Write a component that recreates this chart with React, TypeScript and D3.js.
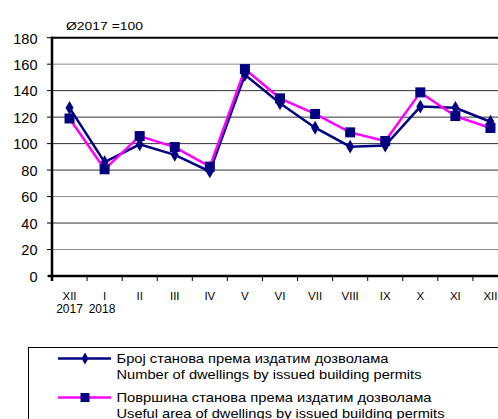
import React, { useEffect, useRef } from "react";
import * as d3 from "d3";

const months = ["XII", "I", "II", "III", "IV", "V", "VI", "VII", "VIII", "IX", "X", "XI", "XII"];
const dwellings = [127, 86, 99.5, 91.5, 79, 152, 130.5, 112, 97.7, 98.5, 128, 127, 116.5];
const area = [119, 80.6, 105.7, 97.4, 82.6, 156.3, 134.2, 122.4, 108.5, 102, 138.7, 120.8, 111.8];
const yTicks = [0, 20, 40, 60, 80, 100, 120, 140, 160, 180];
const yearLabels = ["2017", "2018"];
const legendLabels = [
  ["Број станова према издатим дозволама", "Number of dwellings by issued building permits"],
  ["Површина станова према издатим дозволама", "Useful area of dwellings by issued building permits"],
];
const legendWidths = [[272, 305], [315, 328]];
const gridColors: Record<number, string> = {
  20: "#8c8c8c", 40: "#333", 60: "#8c8c8c", 80: "#333", 100: "#333", 120: "#333", 140: "#333", 160: "#8c8c8c",
};

export default function App() {
  const ref = useRef<SVGSVGElement>(null);
  useEffect(() => {
    const svg = d3.select(ref.current);
    svg.selectAll("*").remove();
    const font = "'Liberation Sans', Arial, sans-serif";
    const left = 52, right = 508, top = 37.7, bottom = 276;
    const x = d3.scaleBand<string>().domain(months.map((m, i) => i + "")).range([left, right]);
    const y = d3.scaleLinear().domain([0, 180]).range([bottom, top]);
    const cx = (i: number) => (x(i + "") as number) + x.bandwidth() / 2;

    // gridlines
    yTicks.filter((t) => t > 0 && t < 180).forEach((t) => {
      svg.append("line").attr("x1", left).attr("x2", right).attr("y1", y(t)).attr("y2", y(t))
        .attr("stroke", gridColors[t]).attr("stroke-width", 1);
    });
    // top border
    svg.append("line").attr("x1", left).attr("x2", right).attr("y1", y(180)).attr("y2", y(180))
      .attr("stroke", "#000").attr("stroke-width", 2);
    // axes
    svg.append("line").attr("x1", left).attr("x2", left).attr("y1", top - 1).attr("y2", bottom + 5)
      .attr("stroke", "#000").attr("stroke-width", 2.5);
    svg.append("line").attr("x1", left - 4).attr("x2", right).attr("y1", bottom).attr("y2", bottom)
      .attr("stroke", "#000").attr("stroke-width", 2.5);
    // y ticks
    yTicks.forEach((t) => {
      svg.append("line").attr("x1", left - 5).attr("x2", left).attr("y1", y(t)).attr("y2", y(t))
        .attr("stroke", "#000").attr("stroke-width", 1);
      svg.append("text").attr("x", 37.5).attr("y", y(t)).attr("dy", "0.4em").attr("text-anchor", "end")
        .attr("font-family", font).attr("font-size", 14.5).attr("fill", "#000").text(t);
    });
    // x ticks
    months.forEach((m, i) => {
      const xs = x(i + "") as number;
      svg.append("line").attr("x1", xs).attr("x2", xs).attr("y1", bottom).attr("y2", bottom + 5)
        .attr("stroke", "#000").attr("stroke-width", 1);
      svg.append("text").attr("x", cx(i)).attr("y", 299.5).attr("text-anchor", "middle")
        .attr("font-family", font).attr("font-size", 11.5).attr("fill", "#000").text(m);
    });
    const yearX = [69.5, 102];
    yearLabels.forEach((t, i) => {
      svg.append("text").attr("x", yearX[i]).attr("y", 313).attr("text-anchor", "middle")
        .attr("font-family", font).attr("font-size", 12).text(t);
    });
    svg.append("text").attr("x", 66).attr("y", 30).attr("font-family", font).attr("font-size", 11)
      .attr("textLength", 77).attr("lengthAdjust", "spacingAndGlyphs").text("Ø2017 =100");

    const line = d3.line<number>().x((d, i) => cx(i)).y((d) => y(d));
    // series
    svg.append("path").datum(dwellings).attr("d", line).attr("fill", "none")
      .attr("stroke", "#000080").attr("stroke-width", 2.5);
    svg.append("path").datum(area).attr("d", line).attr("fill", "none")
      .attr("stroke", "#ff00ff").attr("stroke-width", 2.5);
    const diamond = d3.symbol().type(d3.symbolDiamond).size(55);
    dwellings.forEach((d, i) => {
      svg.append("path").attr("d", diamond()).attr("transform", `translate(${cx(i)},${y(d)})`)
        .attr("fill", "#000080");
    });
    area.forEach((d, i) => {
      svg.append("rect").attr("x", cx(i) - 5).attr("y", y(d) - 5).attr("width", 10).attr("height", 10)
        .attr("fill", "#000080");
    });

    // legend
    svg.append("rect").attr("x", 28.5).attr("y", 347.5).attr("width", 480).attr("height", 90)
      .attr("fill", "#fff").attr("stroke", "#000").attr("stroke-width", 1);
    const ly = [358.5, 397.5];
    const textBase = [[363, 379], [402.3, 417.5]];
    ly.forEach((yy, k) => {
      svg.append("line").attr("x1", 58).attr("x2", 111).attr("y1", yy).attr("y2", yy)
        .attr("stroke", k === 0 ? "#000080" : "#ff00ff").attr("stroke-width", 2.5);
      if (k === 0) {
        svg.append("path").attr("d", d3.symbol().type(d3.symbolDiamond).size(40)())
          .attr("transform", `translate(85,${yy})`).attr("fill", "#000080");
      } else {
        svg.append("rect").attr("x", 80.5).attr("y", yy - 4.5).attr("width", 9).attr("height", 9)
          .attr("fill", "#000080");
      }
      legendLabels[k].forEach((t, j) => {
        svg.append("text").attr("x", 116.5).attr("y", textBase[k][j]).attr("font-family", font)
          .attr("font-size", 13).attr("fill", "#000")
          .attr("textLength", legendWidths[k][j]).attr("lengthAdjust", "spacingAndGlyphs").text(t);
      });
    });
  }, []);
  return (
    <svg ref={ref} width={498} height={419}
      style={{ position: "absolute", left: 0, top: 0, background: "#fff" }} />
  );
}
